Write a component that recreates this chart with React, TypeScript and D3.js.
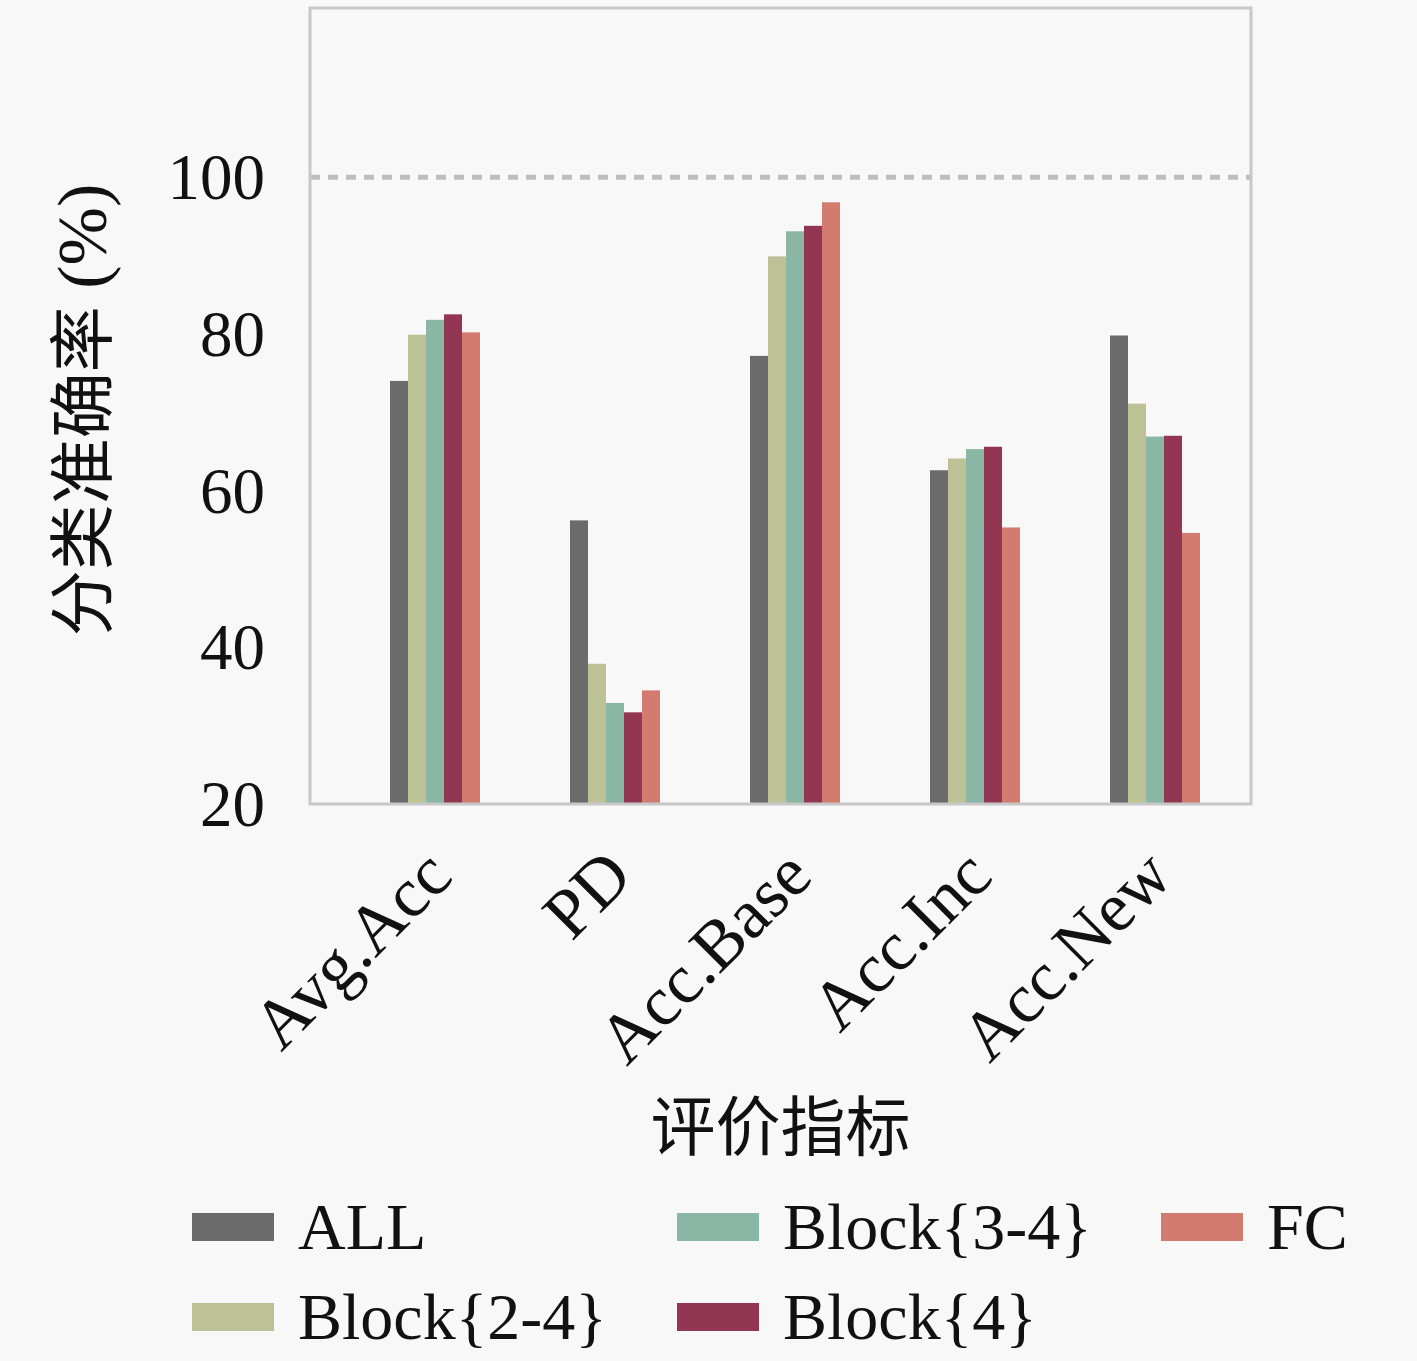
import React from "react";
import * as d3 from "d3";

const categories = ["Avg.Acc", "PD", "Acc.Base", "Acc.Inc", "Acc.New"];
const seriesNames = ["ALL", "Block{2-4}", "Block{3-4}", "Block{4}", "FC"];
const seriesColors = ["#6b6b6b", "#bcc296", "#8ab6a6", "#933653", "#d27b6e"];
const valuesALL = [74.0, 56.2, 77.2, 62.6, 79.8];
const valuesB24 = [79.9, 37.9, 89.9, 64.1, 71.1];
const valuesB34 = [81.8, 32.9, 93.1, 65.3, 66.9];
const valuesB4 = [82.5, 31.7, 93.8, 65.6, 67.0];
const valuesFC = [80.2, 34.5, 96.8, 55.3, 54.6];
const yTicks = [20, 40, 60, 80, 100];
const refLine = 100;
const yLabelCJK = "分类准确率";
const yLabelLatin = " (%)";
const xLabel = "评价指标";

const allValues = [valuesALL, valuesB24, valuesB34, valuesB4, valuesFC];

const W = 1417;
const H = 1361;
const plot = { left: 310, right: 1251, top: 8, bottom: 804 };
const serif = "'Liberation Serif', 'DejaVu Serif', serif";
const cjk = "'Noto Sans CJK SC', sans-serif";

export default function App() {
  const y = d3.scaleLinear().domain([20, 121.6]).range([plot.bottom, plot.top]);
  const x = d3
    .scaleBand<string>()
    .domain(categories)
    .range([345, 1245])
    .paddingInner(0.5)
    .paddingOuter(0.25);
  const xs = d3.scaleBand<string>().domain(seriesNames).range([0, x.bandwidth()]);

  const legendCols = [192, 677, 1161];
  const legendRows = [1227, 1317];

  return (
    <svg
      width={W}
      height={H}
      style={{ position: "absolute", left: 0, top: 0, display: "block" }}
    >
      <rect x={0} y={0} width={W} height={H} fill="#f8f8f8" />
      {/* bars */}
      {categories.map((c, ci) =>
        seriesNames.map((s, si) => {
          const v = allValues[si][ci];
          return (
            <rect
              key={c + s}
              x={(x(c) as number) + (xs(s) as number)}
              y={y(v)}
              width={xs.bandwidth()}
              height={y(20) - y(v)}
              fill={seriesColors[si]}
            />
          );
        })
      )}
      {/* reference line */}
      <line
        x1={plot.left}
        x2={plot.right}
        y1={y(refLine)}
        y2={y(refLine)}
        stroke="#bdbdbd"
        strokeWidth={5}
        strokeDasharray="10 8"
      />
      {/* frame */}
      <rect
        x={plot.left}
        y={plot.top}
        width={plot.right - plot.left}
        height={plot.bottom - plot.top}
        fill="none"
        stroke="#c8c8c8"
        strokeWidth={3}
      />
      {/* y ticks */}
      {yTicks.map((t) => (
        <text
          key={t}
          x={265}
          y={y(t)}
          dy="0.34em"
          textAnchor="end"
          fontFamily={serif}
          fontSize={65}
          fill="#111"
        >
          {t}
        </text>
      ))}
      {/* x tick labels */}
      {categories.map((c) => {
        const cx = (x(c) as number) + x.bandwidth() / 2;
        return (
          <text
            key={c}
            transform={`translate(${cx + 20},${879}) rotate(-45)`}
            textAnchor="end"
            fontFamily={serif}
            fontSize={70}
            fill="#111"
          >
            {c}
          </text>
        );
      })}
      {/* y label */}
      <text
        transform={`translate(106,${410}) rotate(-90)`}
        textAnchor="middle"
        fontSize={66}
        fill="#111"
      >
        <tspan fontFamily={cjk}>{yLabelCJK}</tspan>
        <tspan fontFamily={serif} fontSize={70}>{yLabelLatin}</tspan>
      </text>
      {/* x label */}
      <text
        x={(plot.left + plot.right) / 2}
        y={1150}
        textAnchor="middle"
        fontFamily={cjk}
        fontSize={65}
        fill="#111"
      >
        {xLabel}
      </text>
      {/* legend */}
      {seriesNames.map((s, i) => {
        const col = Math.floor(i / 2);
        const row = i % 2;
        const lx = legendCols[col];
        const ly = legendRows[row];
        return (
          <g key={s}>
            <rect x={lx} y={ly - 14} width={82} height={28} fill={seriesColors[i]} />
            <text
              x={lx + 106}
              y={ly}
              dy="0.34em"
              fontFamily={serif}
              fontSize={66}
              fill="#111"
            >
              {s}
            </text>
          </g>
        );
      })}
    </svg>
  );
}
